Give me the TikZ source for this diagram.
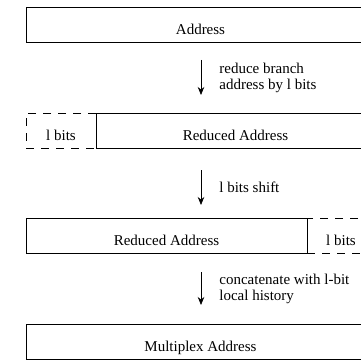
\documentclass[tikz,border=0pt]{standalone}
\usepackage{fontspec}
\setmainfont{Liberation Serif}
\usetikzlibrary{arrows.meta,positioning}

\begin{document}
\begin{tikzpicture}[x=1pt, y=-1pt,
    field/.style={draw, line width=0.8pt, minimum height=35pt, inner sep=0pt, text height=19pt, text depth=0pt, font=\fontsize{15}{16}\selectfont},
    spare/.style={field, dash pattern=on 8pt off 7pt},
    arr/.style={-{Stealth[length=8pt, width=6.5pt]}, line width=0.8pt},
    note/.style={align=left, inner sep=0pt, font=\fontsize{15}{16}\selectfont, right=18pt}
]
\useasboundingbox (0,0) rectangle (361,361);
\clip (0,0) rectangle (361,361);

% dashed l-bit fields
\node[spare, minimum width=70pt] (lb1) at (61,130.5) {l bits};
\node[spare, minimum width=68pt] (lb2) at (341,235.5) {l bits};

% address fields
\node[field, minimum width=349pt] (addr) at (200.5,25) {Address};
\node[field, minimum width=279pt] (red1) at (235.5,130.5) {Reduced Address};
\node[field, minimum width=281pt] (red2) at (166.5,235.5) {Reduced Address};
\node[field, minimum width=349pt] (mux) at (200.5,341.5) {Multiplex Address};

\coordinate (s1) at (201,60);
\coordinate (e1) at (201,95);
\coordinate (s2) at (201,170);
\coordinate (e2) at (201,205);
\coordinate (s3) at (201,272);
\coordinate (e3) at (201,305);

\draw[arr] (s1) -- node[note] {reduce branch\\address by l bits} (e1);
\draw[arr] (s2) -- node[note] {l bits shift} (e2);
\draw[arr] (s3) -- node[note] {concatenate with l-bit\\local history} (e3);
\end{tikzpicture}
\end{document}
